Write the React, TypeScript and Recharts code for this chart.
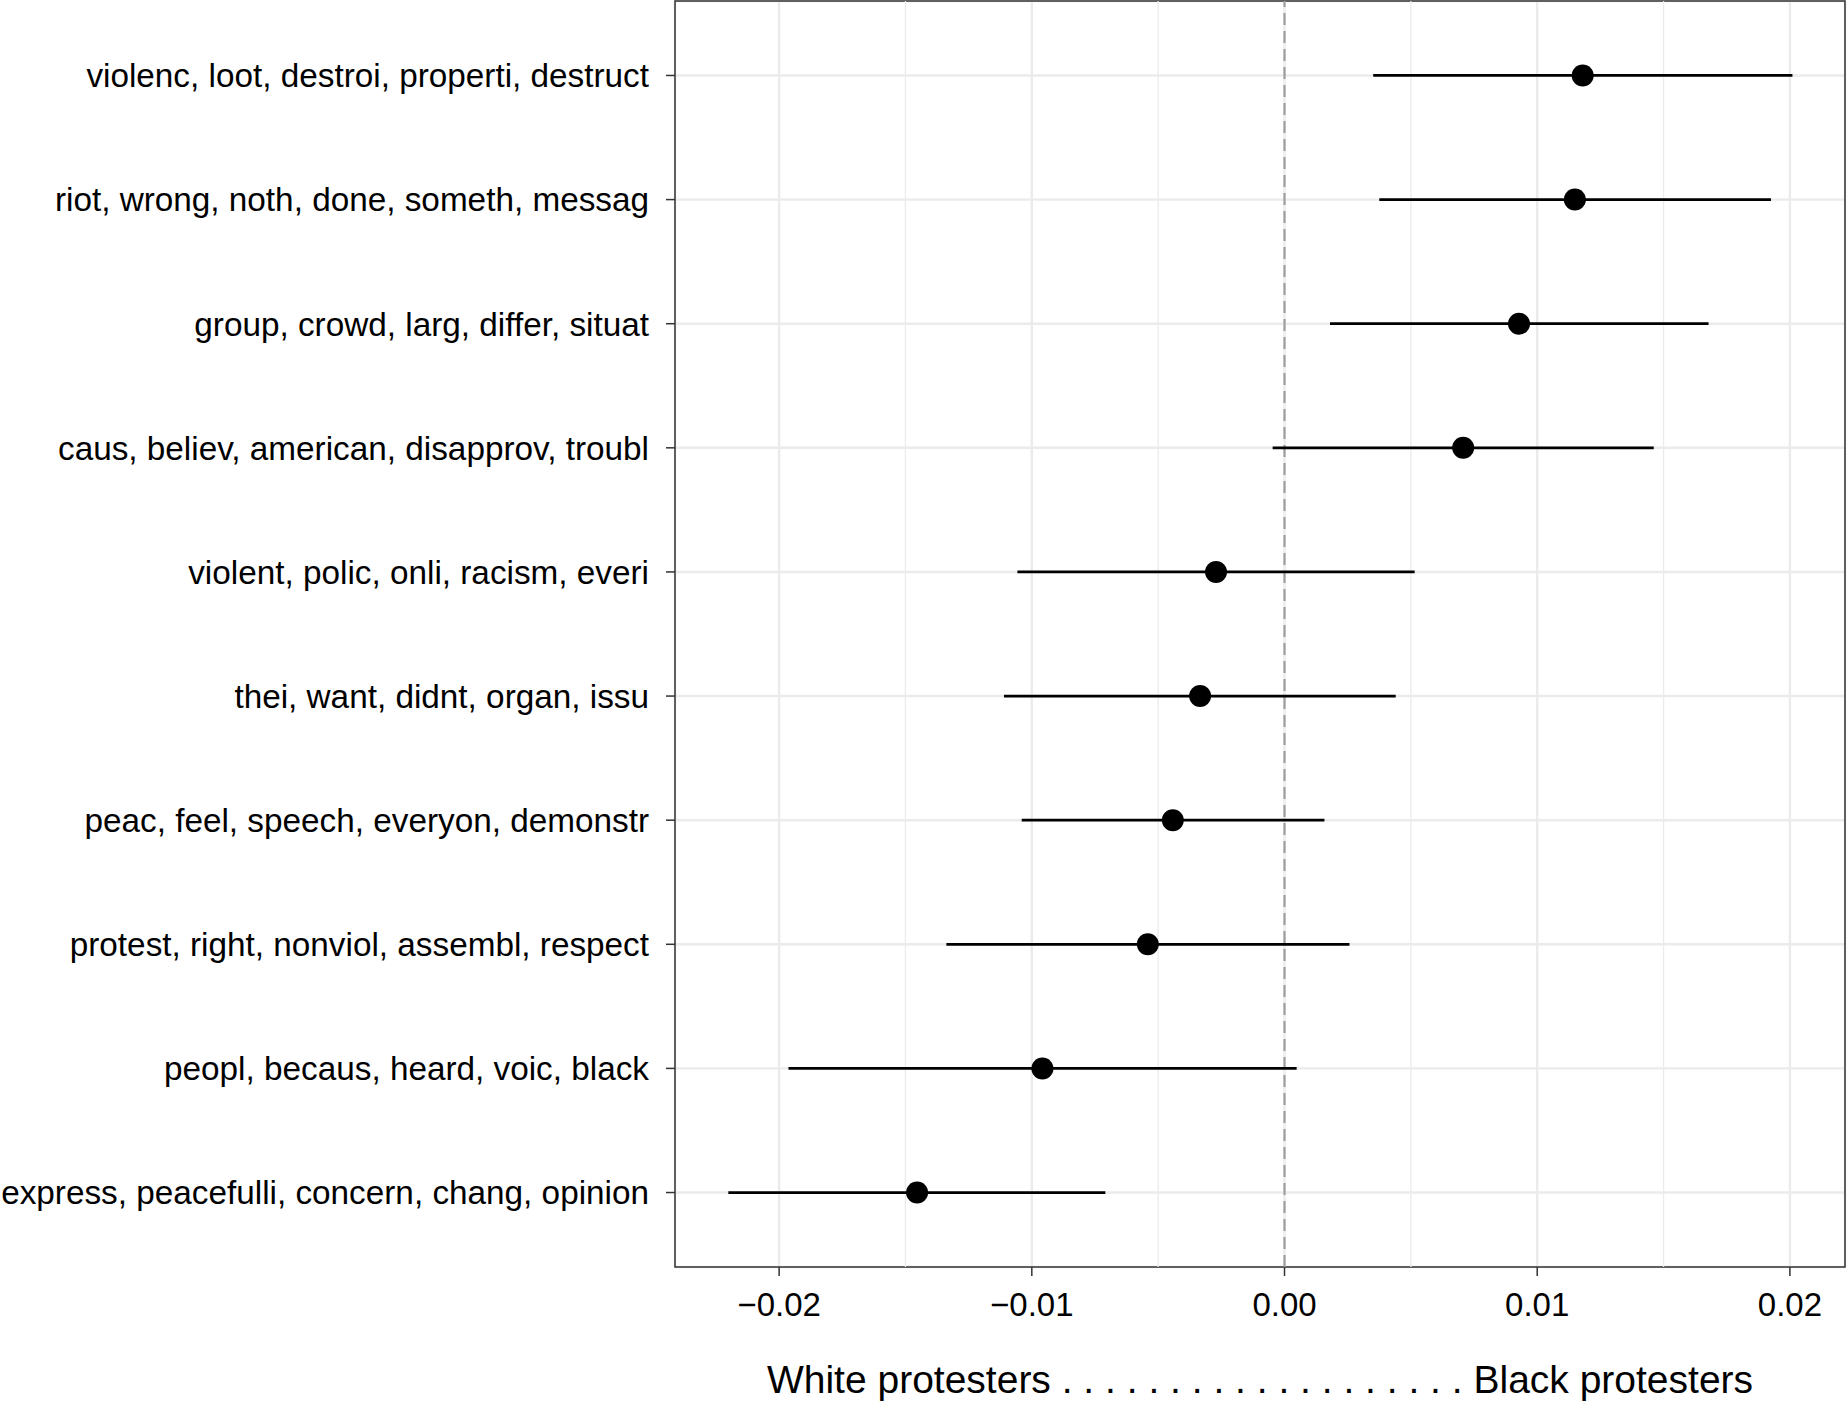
import {
    CartesianGrid,
    ErrorBar,
    Label,
    ReferenceArea,
    ReferenceLine,
    Scatter,
    ScatterChart,
    XAxis,
    YAxis,
} from "recharts";

const TOPICS = [
    "violenc, loot, destroi, properti, destruct",
    "riot, wrong, noth, done, someth, messag",
    "group, crowd, larg, differ, situat",
    "caus, believ, american, disapprov, troubl",
    "violent, polic, onli, racism, everi",
    "thei, want, didnt, organ, issu",
    "peac, feel, speech, everyon, demonstr",
    "protest, right, nonviol, assembl, respect",
    "peopl, becaus, heard, voic, black",
    "express, peacefulli, concern, chang, opinion",
];

const ESTIMATES = [0.0118, 0.01149, 0.00928, 0.00707, -0.00271, -0.00334, -0.00442, -0.00541, -0.00958, -0.01454];
const LOWER = [0.00351, 0.00375, 0.0018, -0.00047, -0.01057, -0.0111, -0.0104, -0.01338, -0.01963, -0.02201];
const UPPER = [0.0201, 0.01925, 0.01678, 0.01461, 0.00515, 0.0044, 0.00158, 0.00257, 0.00048, -0.00709];

const X_TICKS = [-0.02, -0.01, 0, 0.01, 0.02];
const X_MINOR = [-0.015, -0.005, 0.005, 0.015];
const X_DOMAIN: [number, number] = [-0.02412, 0.02218];
const Y_DOMAIN: [number, number] = [0.4, TOPICS.length + 0.6];

const AXIS_TITLE = "White protesters . . . . . . . . . . . . . . . . . . . Black protesters";

const FONT = "'Liberation Sans', Arial, Helvetica, sans-serif";

const rows = TOPICS.map((topic, i) => ({
    row: i + 1,
    topic,
    est: ESTIMATES[i],
    err: [ESTIMATES[i] - LOWER[i], UPPER[i] - ESTIMATES[i]],
}));

const rowTicks = TOPICS.map((_, i) => i + 1);

const fmtX = (v: number) => v.toFixed(2).replace("-", "\u2212");

function Dot(props: any) {
    return <circle cx={props.cx} cy={props.cy} r={11} fill="#000" />;
}

function AxisTitle(props: any) {
    const vb = props.viewBox;
    return (
        <text
            x={vb.x + vb.width / 2}
            y={vb.y + 126}
            textAnchor="middle"
            fontSize={39}
            fontFamily={FONT}
            fill="#000"
        >
            {AXIS_TITLE}
        </text>
    );
}

export default function App() {
    return (
        <div style={{ position: "absolute", left: 0, top: 0, width: 1848, height: 1415, background: "#fff" }}>
            <ScatterChart width={1848} height={1415} margin={{ top: 1, right: 3, bottom: 0, left: 0 }}>
                <CartesianGrid stroke="#EBEBEB" strokeWidth={2.4} />
                {X_MINOR.map((v) => (
                    <ReferenceLine key={v} x={v} stroke="#EBEBEB" strokeWidth={1.3} />
                ))}
                <ReferenceLine x={0} stroke="#9E9E9E" strokeWidth={2.2} strokeDasharray="12 6" />
                <XAxis
                    type="number"
                    dataKey="est"
                    domain={X_DOMAIN}
                    allowDataOverflow
                    ticks={X_TICKS}
                    tickFormatter={fmtX}
                    interval={0}
                    height={148}
                    tickSize={9}
                    tickMargin={17}
                    axisLine={false}
                    tickLine={{ stroke: "#333", strokeWidth: 1.5 }}
                    tick={{ fontSize: 33, fill: "#000", fontFamily: FONT }}
                >
                    <Label content={AxisTitle} />
                </XAxis>
                <YAxis
                    type="number"
                    dataKey="row"
                    domain={Y_DOMAIN}
                    reversed
                    ticks={rowTicks}
                    interval={0}
                    tickFormatter={(v: number) => TOPICS[v - 1]}
                    width={675}
                    tickSize={9}
                    tickMargin={17}
                    axisLine={false}
                    tickLine={{ stroke: "#333", strokeWidth: 1.5 }}
                    tick={{ fontSize: 33.3, fill: "#000", fontFamily: FONT }}
                />
                <Scatter data={rows} shape={Dot} isAnimationActive={false}>
                    <ErrorBar dataKey="err" direction="x" width={0} stroke="#000" strokeWidth={2.8} isAnimationActive={false} />
                </Scatter>
                <ReferenceArea
                    x1={X_DOMAIN[0]}
                    x2={X_DOMAIN[1]}
                    y1={Y_DOMAIN[0]}
                    y2={Y_DOMAIN[1]}
                    fill="none"
                    fillOpacity={0}
                    stroke="#333"
                    strokeWidth={1.5}
                />
            </ScatterChart>
        </div>
    );
}
